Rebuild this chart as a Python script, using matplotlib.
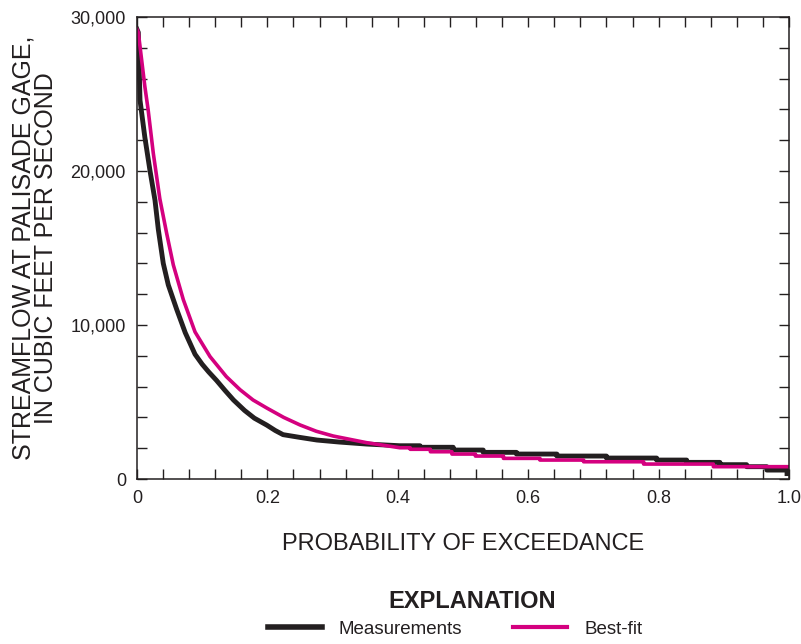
import numpy as np
import matplotlib
matplotlib.use("Agg")
import matplotlib.pyplot as plt
from matplotlib.ticker import FixedLocator, MultipleLocator, FuncFormatter
from matplotlib.lines import Line2D

plt.rcParams["font.family"] = ["Liberation Sans", "DejaVu Sans"]

# ---------------------------
# Data
# ---------------------------

# Measurements: smooth upper part, then stepped tail
meas_p = [0.0, 0.002, 0.0046, 0.012, 0.020, 0.0276, 0.0327, 0.0403, 0.048, 0.061,
          0.074, 0.089, 0.100, 0.110, 0.122, 0.135, 0.148, 0.165, 0.180, 0.199,
          0.212, 0.224, 0.250, 0.276, 0.310, 0.352, 0.403,
          0.434, 0.434, 0.485, 0.485, 0.531, 0.531, 0.582, 0.582, 0.644, 0.644,
          0.720, 0.720, 0.797, 0.797, 0.843, 0.843, 0.894, 0.894, 0.935, 0.935,
          0.966, 0.966, 0.997, 0.997]
meas_q = [29200, 29000, 24600, 22200, 20000, 18100, 16200, 14000, 12600, 11000,
          9500, 8100, 7450, 6950, 6400, 5750, 5130, 4450, 3950, 3500,
          3150, 2880, 2700, 2530, 2400, 2270, 2160,
          2160, 2060, 2060, 1880, 1880, 1730, 1730, 1620, 1620, 1490,
          1490, 1360, 1360, 1230, 1230, 1080, 1080, 930, 930, 800,
          800, 580, 580, 350]

# Best-fit curve
fit_p = [0.0, 0.002, 0.012, 0.017, 0.025, 0.035, 0.0455, 0.0557, 0.071, 0.089,
         0.112, 0.137, 0.158, 0.178, 0.199, 0.225, 0.250, 0.275, 0.301, 0.352,
         0.403,
         0.419, 0.419, 0.450, 0.450, 0.483, 0.483, 0.519, 0.519, 0.562, 0.562,
         0.618, 0.618, 0.685, 0.685, 0.777, 0.777, 0.884, 0.884, 1.0]
fit_q = [29200, 29000, 25500, 24000, 21150, 18200, 15950, 13900, 11650, 9550,
         7950, 6650, 5800, 5130, 4610, 4000, 3510, 3100, 2790, 2360,
         2030,
         2030, 1930, 1930, 1770, 1770, 1620, 1620, 1490, 1490, 1340,
         1340, 1230, 1230, 1120, 1120, 970, 970, 800, 800]

x_major = [0.0, 0.2, 0.4, 0.6, 0.8, 1.0]
x_labels = ["0", "0.2", "0.4", "0.6", "0.8", "1.0"]
y_major = [0, 10000, 20000, 30000]

MEAS_COLOR = "#231f20"
FIT_COLOR = "#d4007f"
INK = "#231f20"

# ---------------------------
# Plot
# ---------------------------

fig = plt.figure(figsize=(8.01, 6.44), dpi=100)
ax = fig.add_axes([137 / 801, 1 - 479 / 644, 652 / 801, 462 / 644])

ax.plot(meas_p, meas_q, color=MEAS_COLOR, lw=3.5, solid_joinstyle="round")
ax.plot(fit_p, fit_q, color=FIT_COLOR, lw=2.6, solid_joinstyle="round")

ax.set_xlim(0, 1.0)
ax.set_ylim(0, 30000)

ax.xaxis.set_major_locator(FixedLocator(x_major))
ax.xaxis.set_major_formatter(FuncFormatter(
    lambda v, pos: x_labels[pos] if pos is not None and pos < len(x_labels) else ""))
ax.xaxis.set_minor_locator(MultipleLocator(0.04))
ax.yaxis.set_major_locator(FixedLocator(y_major))
ax.yaxis.set_major_formatter(FuncFormatter(lambda v, pos: f"{int(v):,}"))
ax.yaxis.set_minor_locator(MultipleLocator(2000))

ax.tick_params(which="both", direction="in", top=True, right=True,
               length=7, width=1.0, color=INK)
ax.tick_params(which="major", labelsize=13, labelcolor=INK, pad=8)
for s in ax.spines.values():
    s.set_linewidth(1.1)
    s.set_color(INK)

ax.set_xlabel("PROBABILITY OF EXCEEDANCE", fontsize=17, color=INK, labelpad=19)
ax.set_ylabel("STREAMFLOW AT PALISADE GAGE,\nIN CUBIC FEET PER SECOND",
              fontsize=18, color=INK, labelpad=9, linespacing=0.92)

# Explanation block
fig.text(472 / 801, 1 - 601 / 644, "EXPLANATION", ha="center", va="center",
         fontsize=17, fontweight="bold", color=INK)
handles = [Line2D([], [], color=MEAS_COLOR, lw=4.0),
           Line2D([], [], color=FIT_COLOR, lw=3.0)]
fig.legend(handles, ["Measurements", "Best-fit"], ncol=2, frameon=False,
           loc="center", bbox_to_anchor=(455 / 801, 1 - 629 / 644),
           fontsize=13.5, handlelength=2.9, handletextpad=0.9, columnspacing=2.7,
           labelcolor=INK)

fig.savefig("out.png", dpi=100)
